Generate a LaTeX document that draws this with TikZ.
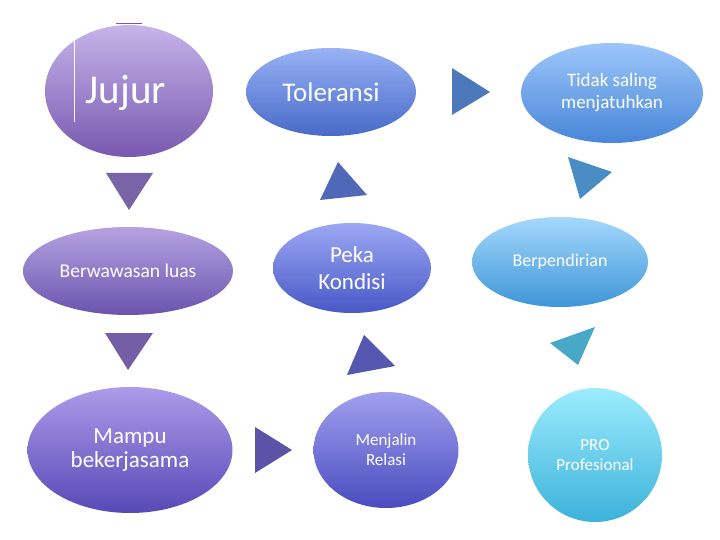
\documentclass[tikz,border=0pt]{standalone}
\usepackage{fontspec}
\setmainfont{Carlito}
\usepackage{tikz}
\usetikzlibrary{shapes,positioning}
\definecolor{jujurtop}{HTML}{C6B4EA}
\definecolor{jujurbot}{HTML}{7858B0}
\definecolor{luastop}{HTML}{B6A2E2}
\definecolor{luasbot}{HTML}{6A54AE}
\definecolor{mampotop}{HTML}{AC9CEA}
\definecolor{mampobot}{HTML}{5848B6}
\definecolor{relasitop}{HTML}{A0A0EE}
\definecolor{relasibot}{HTML}{4A4CC0}
\definecolor{pekatop}{HTML}{9CA8F4}
\definecolor{pekabot}{HTML}{4858C6}
\definecolor{toltop}{HTML}{98B2F6}
\definecolor{tolbot}{HTML}{486AC8}
\definecolor{tidaktop}{HTML}{9CC6FA}
\definecolor{tidakbot}{HTML}{4886D8}
\definecolor{dirtop}{HTML}{A4D8FC}
\definecolor{dirbot}{HTML}{3E96D8}
\definecolor{protop}{HTML}{9CECFE}
\definecolor{probot}{HTML}{3CB2DA}
\tikzset{bubble/.style={ellipse,inner sep=-8pt,text=white,align=center}}

\begin{document}
\begin{tikzpicture}[x=1pt,y=-1pt]
        \useasboundingbox (0,0) rectangle (720,540);
        % first column
        \node[bubble,minimum width=168,minimum height=132,top color=jujurtop,bottom color=jujurbot] (jujur) at (129,91) {};
        \node[text=white,font=\fontsize{41}{45}\selectfont] (jujurtxt) at (126,93) {Jujur};
        \draw[white,line width=1pt] (74,40) -- (74,122);
        \draw[jujurbot,line width=1pt] (116,24) -- (142,24);
        \node[bubble,minimum width=210,minimum height=88,top color=luastop,bottom color=luasbot,font=\fontsize{19.5}{23}\selectfont] (luas) at (128,271) {Berwawasan luas};
        \node[bubble,minimum width=205,minimum height=126,top color=mampotop,bottom color=mampobot,font=\fontsize{23}{24}\selectfont] (mampu) at (130,450) {Mampu\\bekerjasama};
        
        % second column
        \node[bubble,minimum width=170,minimum height=88,top color=toltop,bottom color=tolbot,font=\fontsize{27}{31}\selectfont] (toleransi) at (331,92) {Toleransi};
        \node[bubble,minimum width=158,minimum height=90,top color=pekatop,bottom color=pekabot,font=\fontsize{23}{27}\selectfont] (peka) at (352,268) {Peka\\Kondisi};
        \node[bubble,minimum width=145,minimum height=116,top color=relasitop,bottom color=relasibot,font=\fontsize{17}{20}\selectfont] (relasi) at (386,450) {Menjalin\\Relasi};
        
        % third column
        \node[bubble,minimum width=182,minimum height=100,top color=tidaktop,bottom color=tidakbot,font=\fontsize{19}{22}\selectfont] (tidak) at (612,93) {Tidak saling\\menjatuhkan};
        \node[bubble,minimum width=176,minimum height=90,top color=dirtop,bottom color=dirbot,font=\fontsize{18}{22}\selectfont] (pendirian) at (560,262) {Berpendirian};
        \node[circle,inner sep=0pt,minimum size=134,top color=protop,bottom color=probot,text=white,align=center,font=\fontsize{17}{20}\selectfont] (pro) at (595,455) {PRO\\Profesional};
        
        % triangles
        \fill[color={rgb,255:red,122;green,100;blue,168}] (106,173) -- (153,173) -- (129,210) -- cycle;
        \fill[color={rgb,255:red,116;green,94;blue,166}] (105,333) -- (153,333) -- (128,370) -- cycle;
        \fill[color={rgb,255:red,92;green,82;blue,168}] (255,427) -- (255,473) -- (292,450) -- cycle;
        \fill[color={rgb,255:red,85;green,88;blue,176}] (364,335) -- (347,375) -- (395,366) -- cycle;
        \fill[color={rgb,255:red,80;green,104;blue,184}] (338,162) -- (320,200) -- (367,195) -- cycle;
        \fill[color={rgb,255:red,78;green,120;blue,188}] (452,68) -- (452,115) -- (490,92) -- cycle;
        \fill[color={rgb,255:red,74;green,140;blue,196}] (568,157) -- (580,199) -- (612,172) -- cycle;
        \fill[color={rgb,255:red,72;green,168;blue,200}] (550,343) -- (595,327) -- (578,365) -- cycle;
        
      \end{tikzpicture}
\end{document}
